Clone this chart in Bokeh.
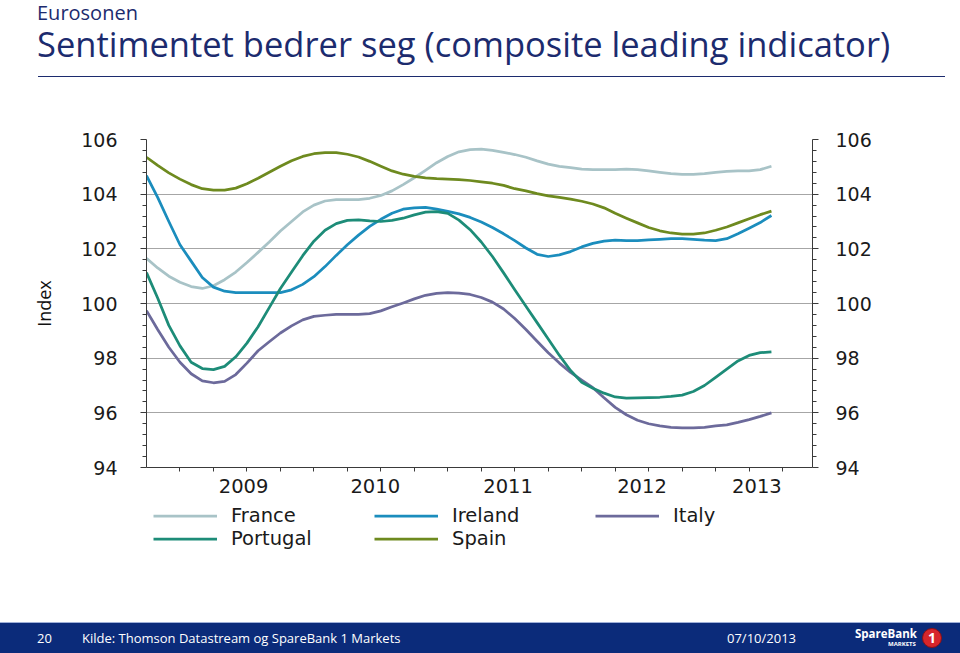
import pandas as pd
from bokeh.plotting import figure
from bokeh.models import (Range1d, LinearAxis, FixedTicker, CustomJSTickFormatter,
                          Legend, LegendItem, Div)
from bokeh.layouts import column
from bokeh.embed import file_html
from bokeh.resources import INLINE

# ---------------- data ----------------
months = pd.date_range("2008-10-01", periods=57, freq="MS").strftime("%Y-%m").tolist()

france = [101.65, 101.30, 101.00, 100.78, 100.62, 100.55, 100.65, 100.87, 101.15, 101.50,
          101.87, 102.25, 102.65, 103.00, 103.35, 103.60, 103.75, 103.80, 103.80, 103.80,
          103.85, 103.95, 104.12, 104.35, 104.60, 104.87, 105.15, 105.38, 105.55, 105.63,
          105.65, 105.60, 105.53, 105.45, 105.35, 105.22, 105.10, 105.02, 104.97, 104.92,
          104.90, 104.90, 104.90, 104.92, 104.90, 104.85, 104.80, 104.75, 104.72, 104.72,
          104.75, 104.80, 104.83, 104.85, 104.85, 104.90, 105.02]
ireland = [104.68, 103.88, 103.00, 102.15, 101.55, 100.95, 100.60, 100.45, 100.40, 100.40,
           100.40, 100.40, 100.40, 100.50, 100.70, 100.98, 101.35, 101.76, 102.15, 102.50,
           102.82, 103.08, 103.30, 103.45, 103.50, 103.52, 103.45, 103.37, 103.28, 103.15,
           102.98, 102.78, 102.55, 102.30, 102.03, 101.80, 101.72, 101.78, 101.90, 102.07,
           102.20, 102.28, 102.32, 102.30, 102.30, 102.33, 102.35, 102.37, 102.37, 102.35,
           102.32, 102.30, 102.37, 102.55, 102.75, 102.96, 103.22]
italy = [99.74, 99.05, 98.40, 97.85, 97.43, 97.17, 97.10, 97.15, 97.40, 97.82,
         98.27, 98.60, 98.92, 99.18, 99.40, 99.53, 99.57, 99.60, 99.60, 99.60,
         99.63, 99.73, 99.88, 100.02, 100.17, 100.30, 100.37, 100.40, 100.38, 100.33,
         100.22, 100.05, 99.80, 99.45, 99.05, 98.62, 98.20, 97.82, 97.48, 97.20,
         96.92, 96.55, 96.20, 95.93, 95.73, 95.60, 95.52, 95.47, 95.45, 95.45,
         95.47, 95.52, 95.56, 95.65, 95.75, 95.87, 96.00]
portugal = [101.13, 100.20, 99.20, 98.45, 97.85, 97.62, 97.58, 97.70, 98.05, 98.55,
            99.15, 99.85, 100.55, 101.15, 101.75, 102.28, 102.68, 102.92, 103.04, 103.06,
            103.02, 103.00, 103.04, 103.12, 103.24, 103.34, 103.36, 103.30, 103.05, 102.70,
            102.25, 101.72, 101.12, 100.50, 99.90, 99.30, 98.70, 98.10, 97.55, 97.12,
            96.90, 96.72, 96.58, 96.54, 96.55, 96.56, 96.57, 96.60, 96.65, 96.78,
            97.00, 97.30, 97.60, 97.90, 98.10, 98.20, 98.23]
spain = [105.35, 105.05, 104.78, 104.55, 104.35, 104.20, 104.15, 104.15, 104.22, 104.38,
         104.58, 104.80, 105.02, 105.22, 105.38, 105.48, 105.52, 105.52, 105.46, 105.36,
         105.20, 105.02, 104.85, 104.73, 104.65, 104.60, 104.57, 104.55, 104.53, 104.50,
         104.45, 104.40, 104.32, 104.20, 104.12, 104.02, 103.94, 103.88, 103.82, 103.74,
         103.64, 103.50, 103.30, 103.12, 102.95, 102.78, 102.66, 102.58, 102.54, 102.54,
         102.58, 102.68, 102.80, 102.95, 103.10, 103.25, 103.38]

series_names = ["France", "Ireland", "Italy", "Portugal", "Spain"]
series_values = [france, ireland, italy, portugal, spain]

year_labels = ["2009", "2010", "2011", "2012", "2013"]
year_label_pos = [8.7, 20.5, 32.4, 44.4, 54.7]     # month index where each year label sits
quarter_ticks = list(range(3, 58, 3))               # month index of quarterly tick marks
y_major = [94, 96, 98, 100, 102, 104, 106]
y_minor = [round(94 + 0.4 * k, 1) for k in range(31) if k % 5 != 0]

title_small = "Eurosonen"
title_main = "Sentimentet bedrer seg (composite leading indicator)"
y_label = "Index"
footer_page = "20"
footer_source = "Kilde: Thomson Datastream og SpareBank 1 Markets"
footer_date = "07/10/2013"

# ---------------- styles ----------------
NAVY = "#1c2b6e"
BAR = "#0b2b7a"
colors = {"France": "#a8c3c7", "Ireland": "#1b8dbd", "Italy": "#6c6a9b",
          "Portugal": "#1d8c78", "Spain": "#6e8a1f"}
W = 960
TICK_FONT = "DejaVu Sans"
LW = 2.75

# ---------------- header (HTML text) ----------------
hdr_html = f"""
<div style="position:relative;width:{W}px;height:100px;font-family:'Open Sans';color:{NAVY};">
  <div style="position:absolute;left:37px;top:3px;font-size:20px;line-height:20px;white-space:nowrap;">{title_small}</div>
  <div style="position:absolute;left:37px;top:26px;font-size:34.5px;line-height:35px;white-space:nowrap;">{title_main}</div>
  <div style="position:absolute;left:38px;top:76px;width:907px;height:0px;border-top:1.6px solid {NAVY};"></div>
</div>
"""
hdr = Div(text=hdr_html, width=W, height=100, margin=0)

# ---------------- main chart ----------------
x = list(range(len(months)))
p = figure(width=W, height=400, x_range=Range1d(0, 59.68), y_range=Range1d(94, 106),
           toolbar_location=None, output_backend="svg", title=None,
           min_border_left=146, min_border_right=148, min_border_top=39, min_border_bottom=33,
           outline_line_color=None)

yticker = FixedTicker(ticks=y_major, minor_ticks=y_minor)
xticker = FixedTicker(ticks=year_label_pos, minor_ticks=quarter_ticks)

mapping = ", ".join(f"'{pos}': '{lab}'" for pos, lab in zip(year_label_pos, year_labels))
xfmt = CustomJSTickFormatter(code=f"const m = {{{mapping}}}; const k = String(tick); return (k in m) ? m[k] : '';")

xa = p.xaxis[0]
xa.ticker = xticker
xa.formatter = xfmt
xa.major_tick_out = 0
xa.major_tick_in = 0
xa.minor_tick_out = 4
xa.minor_tick_in = 0
xa.major_label_standoff = 7
xa.axis_line_color = "#3a3a3a"
xa.minor_tick_line_color = "#3a3a3a"
xa.major_label_text_font = TICK_FONT
xa.major_label_text_font_size = "19.5px"
xa.major_label_text_color = "#1a1a1a"

ya = p.yaxis[0]
ya.ticker = yticker
ya.major_tick_out = 6
ya.major_tick_in = 0
ya.minor_tick_out = 4
ya.minor_tick_in = 0
ya.major_label_standoff = 23
ya.axis_line_color = "#3a3a3a"
ya.major_tick_line_color = "#3a3a3a"
ya.minor_tick_line_color = "#3a3a3a"
ya.major_label_text_font = TICK_FONT
ya.major_label_text_font_size = "19px"
ya.major_label_text_color = "#1a1a1a"
ya.axis_label = y_label
ya.axis_label_text_font = "Open Sans"
ya.axis_label_text_font_style = "normal"
ya.axis_label_text_font_size = "18px"
ya.axis_label_text_color = "#111111"
ya.axis_label_standoff = 22

yr = LinearAxis(ticker=yticker, major_tick_out=6, major_tick_in=0, minor_tick_out=4,
                minor_tick_in=0, major_label_standoff=17, axis_line_color="#3a3a3a",
                major_tick_line_color="#3a3a3a", minor_tick_line_color="#3a3a3a",
                major_label_text_font=TICK_FONT, major_label_text_font_size="19px",
                major_label_text_color="#1a1a1a")
p.add_layout(yr, "right")

p.xgrid.visible = False
p.ygrid.ticker = yticker
p.ygrid.grid_line_color = "#a6a6a6"
p.ygrid.grid_line_width = 1

for name, vals in zip(series_names, series_values):
    p.line(x, vals, line_color=colors[name], line_width=LW, line_join="round")

# ---------------- legend (own panel below the chart) ----------------
lf = figure(width=W, height=120, x_range=Range1d(0, 1), y_range=Range1d(0, 1),
            x_axis_location=None, y_axis_location=None, toolbar_location=None,
            output_backend="svg", title=None, outline_line_color=None,
            min_border_left=146, min_border_right=148, min_border_top=0, min_border_bottom=0)
lf.grid.visible = False
nan = float("nan")
# legend keys: line renderers with a single empty (NaN) row so nothing is drawn in the panel
keys = {n: lf.line(x=[nan], y=[nan], line_color=colors[n], line_width=LW) for n in series_names}

def make_legend(names, loc):
    return Legend(items=[LegendItem(label=n, renderers=[keys[n]]) for n in names],
                  location=loc, orientation="horizontal",
                  glyph_width=64, glyph_height=23, label_standoff=14, label_width=143,
                  label_height=23, spacing=0, padding=0, margin=0,
                  border_line_color=None, background_fill_alpha=0,
                  label_text_font=TICK_FONT, label_text_font_size="19.5px",
                  label_text_color="#1a1a1a")

lf.add_layout(make_legend(["France", "Ireland", "Italy"], (7, 93.5)))
lf.add_layout(make_legend(["Portugal", "Spain"], (7, 70.5)))

# ---------------- footer (HTML text) ----------------
ftr_html = f"""
<div style="position:relative;width:{W}px;height:33px;font-family:'Open Sans';color:white;">
  <div style="position:absolute;left:0px;top:2px;width:{W}px;height:31px;background:{BAR};border-top:1.5px solid #9fb0d8;box-sizing:border-box;"></div>
  <div style="position:absolute;left:37px;top:3px;font-size:13px;line-height:30px;">{footer_page}</div>
  <div style="position:absolute;left:82px;top:3px;font-size:13px;line-height:30px;white-space:nowrap;">{footer_source}</div>
  <div style="position:absolute;left:727px;top:3px;font-size:13px;line-height:30px;">{footer_date}</div>
  <div style="position:absolute;left:855px;top:7px;font-size:11.5px;font-weight:bold;line-height:14px;">SpareBank</div>
  <div style="position:absolute;left:888px;top:21px;font-size:6px;font-weight:bold;line-height:7px;">MARKETS</div>
  <div style="position:absolute;left:922px;top:8px;width:20px;height:20px;border-radius:50%;background:#d7262b;border:1px solid #8a1015;box-sizing:border-box;text-align:center;font-size:14px;font-weight:bold;line-height:18px;">1</div>
</div>
"""
ftr = Div(text=ftr_html, width=W, height=33, margin=0)

layout = column(hdr, p, lf, ftr, spacing=0)
open("out.html", "w").write(file_html(layout, INLINE))
